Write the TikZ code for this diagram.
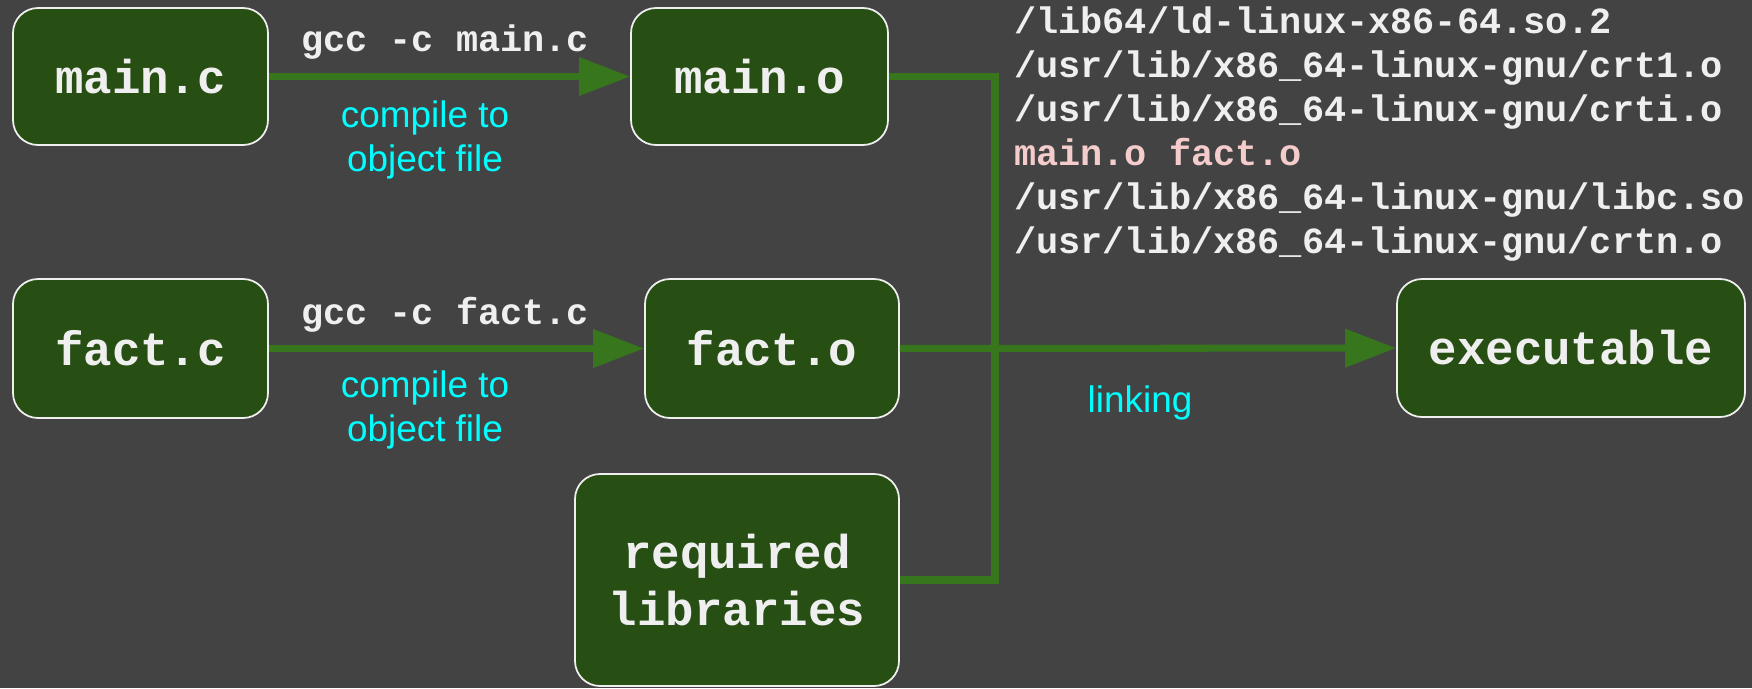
\documentclass[tikz,border=0pt]{standalone}
\usepackage{fontspec}
\setmainfont{Liberation Sans}
\newfontfamily\codefont{Liberation Mono}
\usepackage{tikz}
\usetikzlibrary{arrows.meta,positioning,calc}

\definecolor{bggray}{HTML}{434343}
\definecolor{boxgreen}{HTML}{274E13}
\definecolor{arrowgreen}{HTML}{38761D}
\definecolor{lightgray}{HTML}{EFEFEF}
\definecolor{lightred}{HTML}{F4CCCC}
\definecolor{notecyan}{HTML}{00FFFF}

\tikzset{
  filebox/.style={draw=lightgray, line width=1pt, fill=boxgreen, rounded corners=0.5cm,
                  text=lightgray, align=center, inner sep=0pt,
                  font=\codefont\bfseries\fontsize{27}{32}\selectfont},
  cmd/.style={text=lightgray, font=\codefont\bfseries\fontsize{21}{25}\selectfont},
  note/.style={text=notecyan, align=center, font=\fontsize{21}{25}\selectfont},
  link/.style={draw=arrowgreen, line width=4pt},
  tip/.style={-{Triangle[length=29pt,width=21pt]}},
}

\begin{document}
\begin{tikzpicture}
  \fill[bggray] (0,0) rectangle (35.04,-13.76);
  \useasboundingbox (0,0) rectangle (35.04,-13.76);

  \node[filebox, minimum width=5.1cm, minimum height=2.74cm] (mainc) at (2.81,-1.53) {main.c};
  \node[filebox, minimum width=5.14cm, minimum height=2.74cm] (maino) at (15.19,-1.53) {main.o};
  \node[filebox, minimum width=5.1cm, minimum height=2.78cm] (factc) at (2.81,-6.97) {fact.c};
  \node[filebox, minimum width=5.08cm, minimum height=2.78cm] (facto) at (15.44,-6.97) {fact.o};
  \node[filebox, minimum width=6.48cm, minimum height=4.24cm] (reqlib) at (14.74,-11.6) {required\\libraries};
  \node[filebox, minimum width=6.96cm, minimum height=2.76cm] (exe) at (31.42,-6.96) {executable};

  % linker arguments, base = last line
  \node[cmd, anchor=base west, align=left] (ldargs) at (20.16,-5.06)
    {/lib64/ld-linux-x86-64.so.2\\
     /usr/lib/x86\_64-linux-gnu/crt1.o\\
     /usr/lib/x86\_64-linux-gnu/crti.o\\
     \textcolor{lightred}{main.o fact.o}\\
     /usr/lib/x86\_64-linux-gnu/libc.so\\
     /usr/lib/x86\_64-linux-gnu/crtn.o};

  % compile steps
  \draw[link, tip] (mainc) --
    node[cmd, xshift=-0.09cm, yshift=0.68cm] (gccmain) {gcc -c main.c}
    node[note, xshift=-0.49cm, yshift=-1.26cm] (notemain) {compile to\\object file} (maino);
  \draw[link, tip] (factc) --
    node[cmd, xshift=-0.23cm, yshift=0.68cm] (gccfact) {gcc -c fact.c}
    node[note, xshift=-0.63cm, yshift=-1.22cm] (notefact) {compile to\\object file} (facto);

  % linking
  \coordinate (jn) at (19.9,-1.53);
  \draw[link] (maino.east) -- (maino.east -| jn) -- (reqlib.east -| jn) -- (reqlib.east);
  \draw[link, tip] (facto) --
    node[note, xshift=-0.16cm, yshift=-1.1cm] (linknote) {linking} (exe);
\end{tikzpicture}
\end{document}
